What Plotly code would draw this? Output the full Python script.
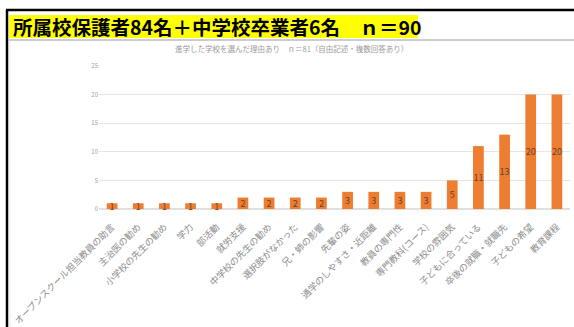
import plotly.graph_objects as go

categories = [
    "オープンスクール担当教員の助言", "主治医の勧め", "小学校の先生の勧め", "学力", "部活動",
    "就労支援", "中学校の先生の勧め", "選択肢がなかった", "兄・姉の影響", "先輩の姿",
    "通学のしやすさ・近距離", "教員の専門性", "専門教科(コース)", "学校の雰囲気",
    "子どもに合っている", "卒後の就職・就職先", "子どもの希望", "教育課程",
]
values = [1, 1, 1, 1, 1, 2, 2, 2, 2, 3, 3, 3, 3, 5, 11, 13, 20, 20]
y_ticks = [0, 5, 10, 15, 20, 25]

title_text = "所属校保護者84名＋中学校卒業者6名　ｎ＝90"
subtitle_text = "進学した学校を選んだ理由あり　ｎ＝81（自由記述・複数回答あり）"

W, H = 574, 327
L, R, T, B = 99, 4, 66, 118
PW, PH = W - L - R, H - T - B

def px(x):
    return (x - L) / PW

def py(y):
    return (H - B - y) / PH

FONT = "Noto Sans CJK JP"

fig = go.Figure(go.Bar(
    x=categories, y=values, text=[str(v) for v in values],
    textposition="inside", insidetextanchor="middle", textangle=0,
    constraintext="none",
    textfont=dict(size=9, color="#6a4028", family=FONT),
    marker=dict(color="#ED7D31", line=dict(width=0)),
    cliponaxis=False,
))

fig.update_layout(
    width=W, height=H,
    margin=dict(l=L, r=R, t=T, b=B, autoexpand=False),
    paper_bgcolor="white", plot_bgcolor="white",
    showlegend=False,
    bargap=0.59,
    uniformtext_mode=False,
    font=dict(family=FONT),
    xaxis=dict(
        tickangle=-45, tickfont=dict(size=9.2, color="#8c8c8c", family=FONT),
        showgrid=False, showline=False, ticks="", automargin=False,
        ticklabelstandoff=10,
    ),
    yaxis=dict(
        range=[0, 25], tickvals=y_ticks, tickfont=dict(size=6, color="#a0a0a0"),
        showgrid=True, gridcolor="#e6e6e6", gridwidth=1, zeroline=True,
        zerolinecolor="#e0e0e0", showline=False, ticks="", automargin=False,
    ),
    shapes=[
        dict(type="line", xref="paper", yref="paper", x0=px(6), x1=px(574), y0=py(10), y1=py(10),
             line=dict(color="black", width=2.5)),
        dict(type="line", xref="paper", yref="paper", x0=px(7), x1=px(7), y0=py(10), y1=py(327),
             line=dict(color="black", width=2.5)),
        dict(type="line", xref="paper", yref="paper", x0=px(9), x1=px(574), y0=py(40), y1=py(40),
             line=dict(color="#9a9a9a", width=1)),
        dict(type="line", xref="paper", yref="paper", x0=px(10), x1=px(10), y0=py(41), y1=py(327),
             line=dict(color="#ececec", width=1)),
        dict(type="rect", xref="paper", yref="paper", x0=px(9), x1=px(418), y0=py(15), y1=py(38),
             fillcolor="#FFFF00", line=dict(width=0), layer="below"),
    ],
    annotations=[
        dict(text="<b>" + title_text + "</b>", xref="paper", yref="paper",
             x=px(11), y=py(26.5), xanchor="left", yanchor="middle", showarrow=False,
             font=dict(size=19.5, color="black", family=FONT), align="left"),
        dict(text=subtitle_text, xref="paper", yref="paper",
             x=px(291), y=py(49), xanchor="center", yanchor="middle", showarrow=False,
             font=dict(size=7.5, color="#9a9a9a", family=FONT)),
    ],
)

fig.write_html("out.html")
